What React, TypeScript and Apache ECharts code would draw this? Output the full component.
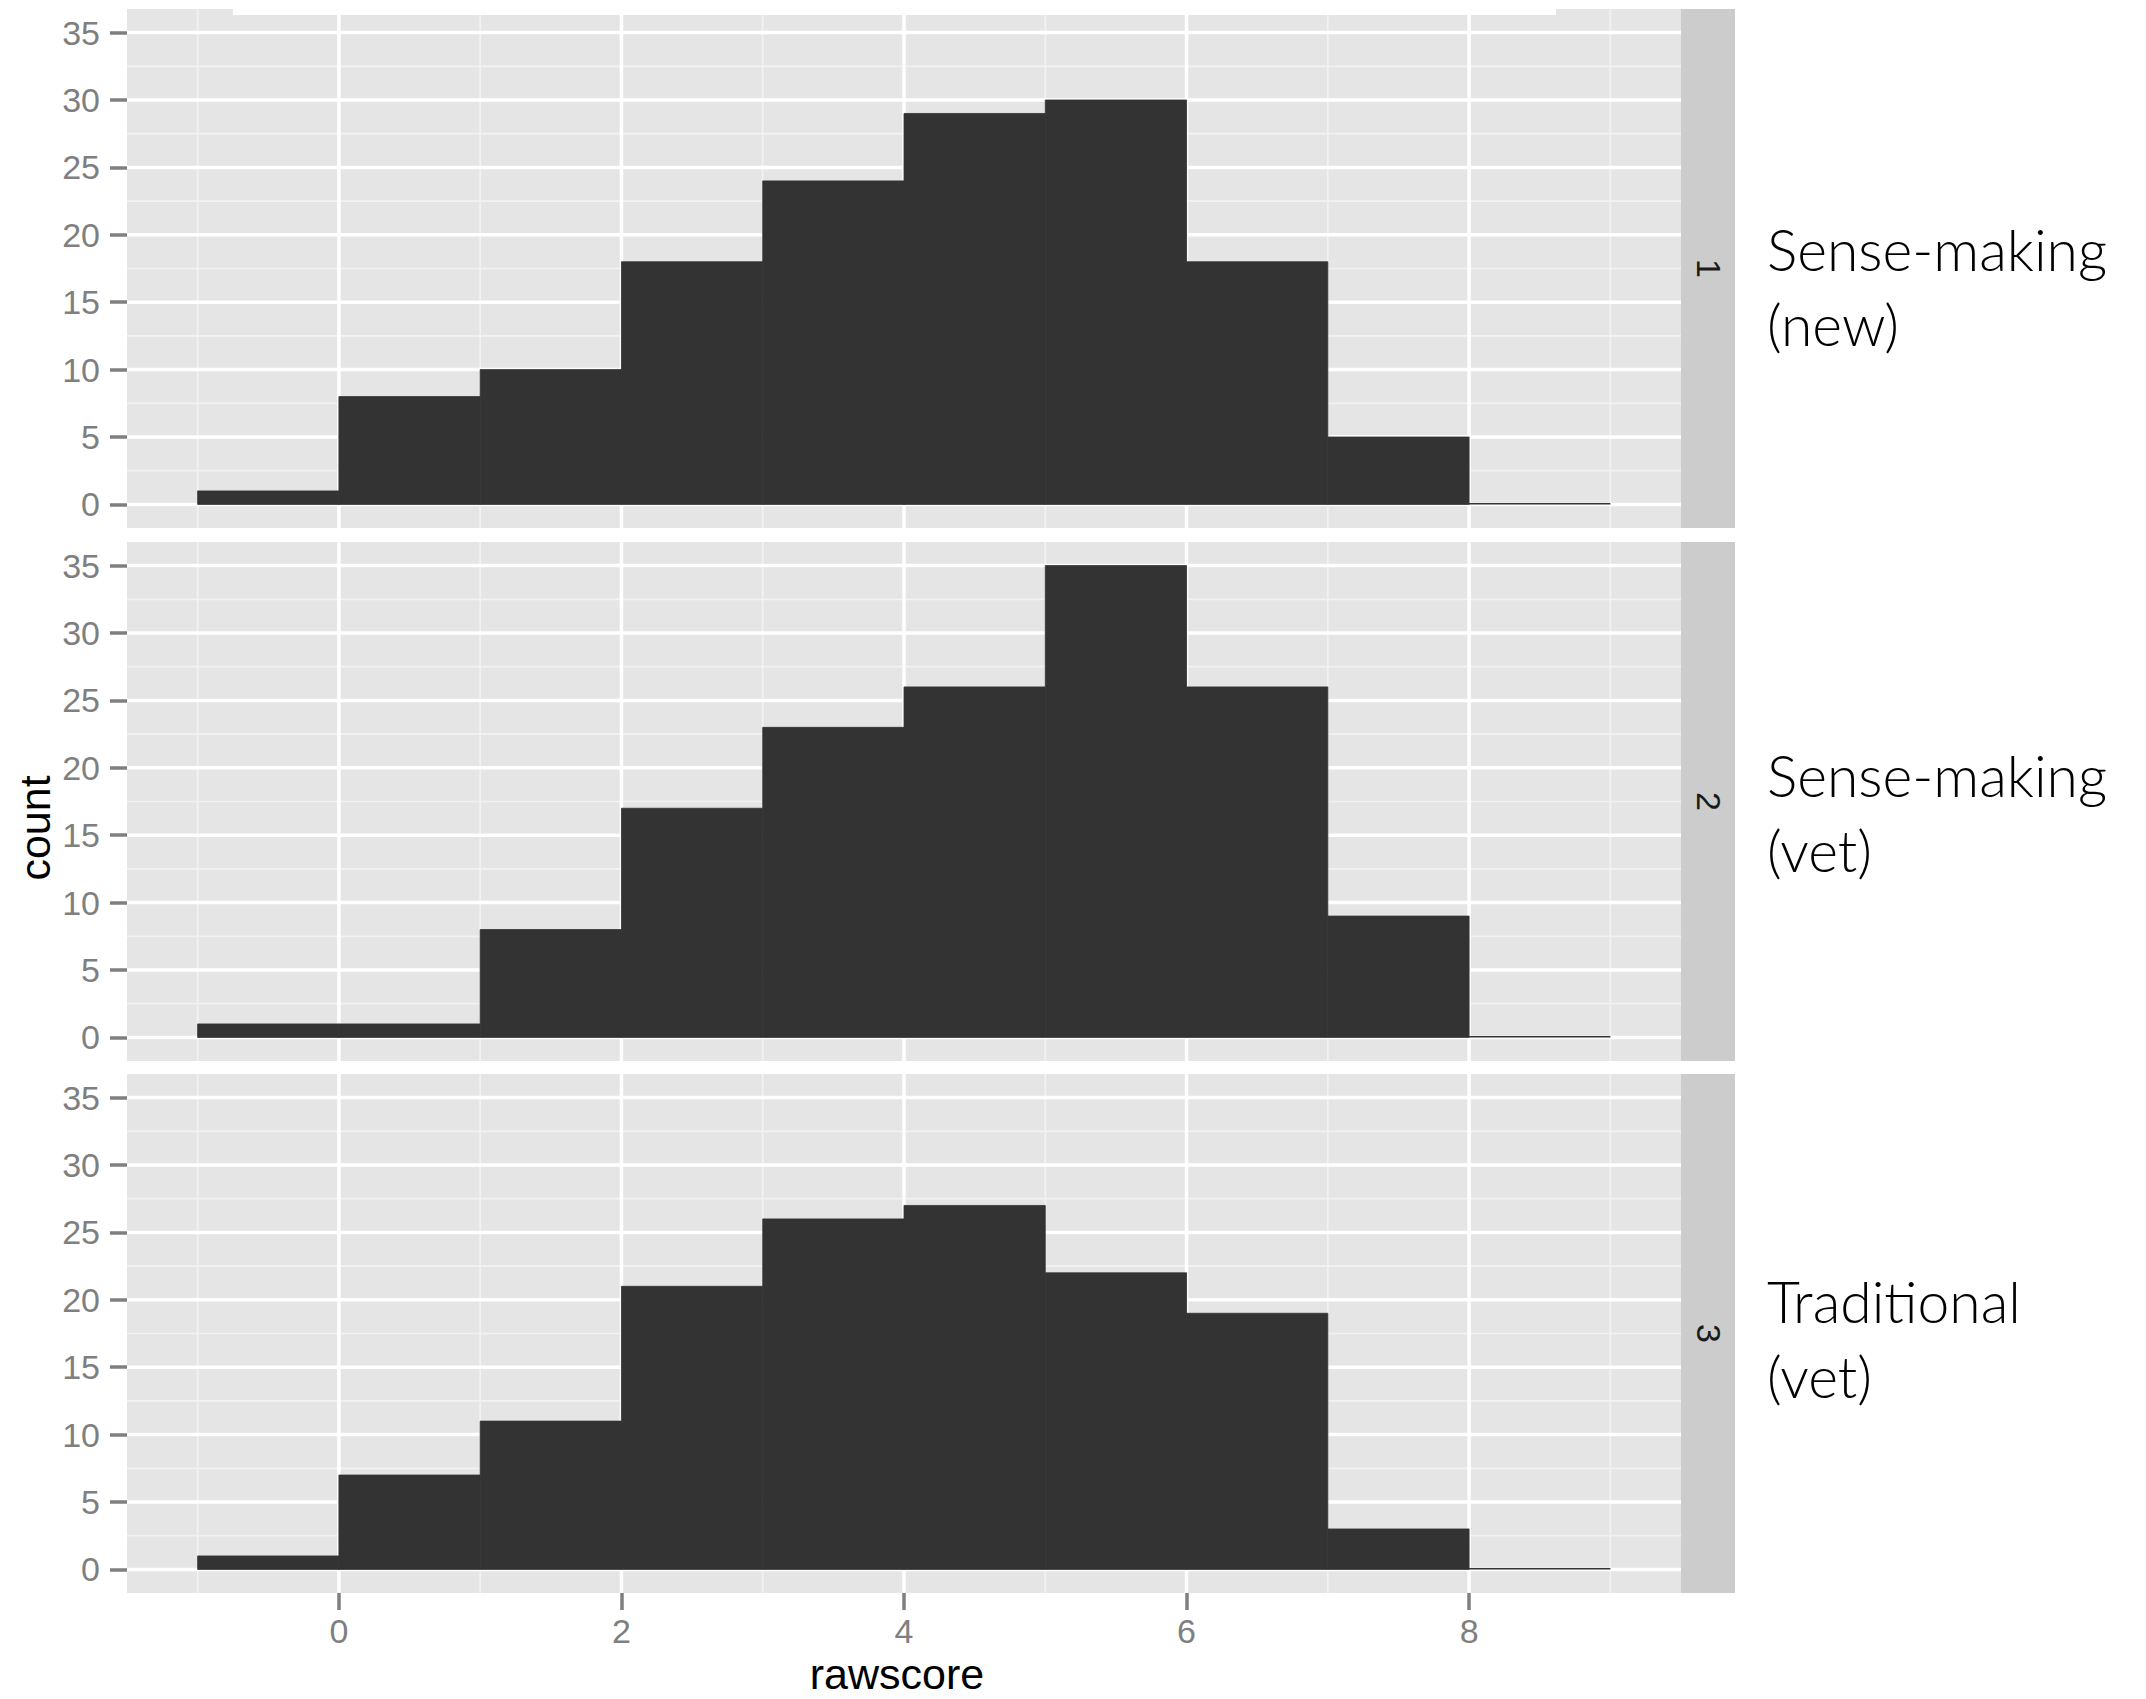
import React, { useEffect, useRef } from "react";
import * as echarts from "echarts";

// ---- data ----
const binStarts = [-1, 0, 1, 2, 3, 4, 5, 6, 7, 8];
const binWidth = 1;
const countsPanel1 = [1, 8, 10, 18, 24, 29, 30, 18, 5, 0];
const countsPanel2 = [1, 1, 8, 17, 23, 26, 35, 26, 9, 0];
const countsPanel3 = [1, 7, 11, 21, 26, 27, 22, 19, 3, 0];
const panelCounts = [countsPanel1, countsPanel2, countsPanel3];
const stripLabels = ["1", "2", "3"];
const groupLabels = [
  ["Sense-making", "(new)"],
  ["Sense-making", "(vet)"],
  ["Traditional", "(vet)"],
];
const xTicks = [0, 2, 4, 6, 8];
const xMinor = [-1, 1, 3, 5, 7, 9];
const yTicks = [0, 5, 10, 15, 20, 25, 30, 35];
const yMinor = [2.5, 7.5, 12.5, 17.5, 22.5, 27.5, 32.5];
const X_MIN = -1.5;
const X_MAX = 9.5;
const Y_MIN = -1.75;
const Y_MAX = 36.75;
const xTitle = "rawscore";
const yTitle = "count";

// ---- layout ----
const W = 2146;
const H = 1699;
const LEFT = 127;
const PW = 1554;
const TOPS = [9, 542, 1074];
const PH = 519;
const STRIP_W = 54;
const LABEL_BASE = [261, 254, 248];
const SANS = "'Liberation Sans', Arial, Helvetica, sans-serif";
const LABEL_FONT = "Lato, 'Open Sans', sans-serif";

export default function App() {
  const ref = useRef<HTMLDivElement>(null);

  useEffect(() => {
    document.body.style.margin = "0";
    document.body.style.overflow = "hidden";
    if (!ref.current) return;
    const chart = echarts.init(ref.current, undefined, { renderer: "svg" });

    const gridData: number[][] = [];
    yMinor.forEach((v) => gridData.push([1, v, 0]));
    xMinor.forEach((v) => gridData.push([0, v, 0]));
    yTicks.forEach((v) => gridData.push([1, v, 1]));
    xTicks.forEach((v) => gridData.push([0, v, 1]));

    const grids: any[] = [];
    const xAxes: any[] = [];
    const yAxes: any[] = [];
    const series: any[] = [];
    const graphics: any[] = [];

    TOPS.forEach((top, i) => {
      const isBottom = i === TOPS.length - 1;
      grids.push({
        left: LEFT,
        top,
        width: PW,
        height: PH,
        show: true,
        backgroundColor: "#E5E5E5",
        borderWidth: 0,
      });
      xAxes.push({
        type: "value",
        gridIndex: i,
        position: "bottom",
        min: X_MIN,
        max: X_MAX,
        axisLine: { show: false, onZero: false },
        splitLine: { show: false },
        axisTick: {
          show: isBottom,
          customValues: xTicks,
          length: 17,
          lineStyle: { color: "#7F7F7F", width: 3.5 },
        },
        axisLabel: {
          show: isBottom,
          customValues: xTicks,
          margin: 21,
          color: "#7F7F7F",
          fontSize: 34,
          fontFamily: SANS,
        },
      });
      yAxes.push({
        type: "value",
        gridIndex: i,
        position: "left",
        min: Y_MIN,
        max: Y_MAX,
        axisLine: { show: false, onZero: false },
        splitLine: { show: false },
        axisTick: {
          show: true,
          customValues: yTicks,
          length: 17,
          lineStyle: { color: "#7F7F7F", width: 3.5 },
        },
        axisLabel: {
          show: true,
          customValues: yTicks,
          margin: 27,
          color: "#7F7F7F",
          fontSize: 34,
          fontFamily: SANS,
        },
      });
      series.push({
        type: "custom",
        xAxisIndex: i,
        yAxisIndex: i,
        silent: true,
        z: 1,
        data: gridData,
        renderItem: (params: any, api: any) => {
          const flag = api.value(0);
          const v = api.value(1);
          const major = api.value(2) === 1;
          const cs = params.coordSys;
          const style = {
            stroke: major ? "#FFFFFF" : "#F2F2F2",
            lineWidth: major ? 3.5 : 1.7,
          };
          if (flag === 0) {
            const px = api.coord([v, 0])[0];
            return {
              type: "line",
              shape: { x1: px, y1: cs.y, x2: px, y2: cs.y + cs.height },
              style,
            };
          }
          const py = api.coord([0, v])[1];
          return {
            type: "line",
            shape: { x1: cs.x, y1: py, x2: cs.x + cs.width, y2: py },
            style,
          };
        },
      });
      series.push({
        type: "custom",
        name: "panel " + stripLabels[i],
        xAxisIndex: i,
        yAxisIndex: i,
        z: 2,
        encode: { x: [0, 1], y: 2 },
        data: binStarts.map((s, k) => [s, s + binWidth, panelCounts[i][k]]),
        renderItem: (params: any, api: any) => {
          const x0 = api.value(0);
          const x1 = api.value(1);
          const c = api.value(2);
          const p0 = api.coord([x0, 0]);
          const p1 = api.coord([x1, c]);
          const h = Math.max(p0[1] - p1[1], 1.5);
          return {
            type: "rect",
            shape: { x: p0[0], y: p0[1] - h, width: p1[0] - p0[0], height: h },
            style: { fill: "#333333", stroke: c > 0 ? "#333333" : null, lineWidth: 0.8 },
          };
        },
      });

      // strip
      graphics.push({
        type: "rect",
        shape: { x: LEFT + PW, y: top, width: STRIP_W, height: PH },
        style: { fill: "#CCCCCC" },
        silent: true,
      });
      graphics.push({
        type: "text",
        x: LEFT + PW + STRIP_W / 2 + 1,
        y: top + PH / 2,
        rotation: -Math.PI / 2,
        style: {
          text: stripLabels[i],
          fontSize: 34,
          fontFamily: SANS,
          fill: "#1A1A1A",
          align: "center",
          verticalAlign: "middle",
        },
        silent: true,
      });
      // group labels
      groupLabels[i].forEach((line, j) => {
        graphics.push({
          type: "text",
          x: 1767,
          y: top + LABEL_BASE[i] + j * 75 - 21,
          style: {
            text: line,
            fontSize: 57,
            fontWeight: 300,
            fontFamily: LABEL_FONT,
            fill: "#000000",
            align: "left",
            verticalAlign: "middle",
          },
          silent: true,
        });
      });
    });

    // axis titles
    graphics.push({
      type: "text",
      x: 35,
      y: 828,
      rotation: Math.PI / 2,
      style: {
        text: yTitle,
        fontSize: 43,
        fontFamily: SANS,
        fill: "#000000",
        align: "center",
        verticalAlign: "middle",
      },
      silent: true,
    });
    graphics.push({
      type: "text",
      x: 897,
      y: 1674,
      style: {
        text: xTitle,
        fontSize: 43,
        fontFamily: SANS,
        fill: "#000000",
        align: "center",
        verticalAlign: "middle",
      },
      silent: true,
    });
    // white band at the very top
    graphics.push({
      type: "rect",
      z: 100,
      shape: { x: 233, y: 9, width: 1323, height: 6 },
      style: { fill: "#FFFFFF" },
      silent: true,
    });

    chart.setOption({
      animation: false,
      backgroundColor: "#FFFFFF",
      grid: grids,
      xAxis: xAxes,
      yAxis: yAxes,
      series,
      graphic: { elements: graphics },
    });

    return () => {
      chart.dispose();
    };
  }, []);

  return <div ref={ref} style={{ width: W + "px", height: H + "px" }} />;
}
